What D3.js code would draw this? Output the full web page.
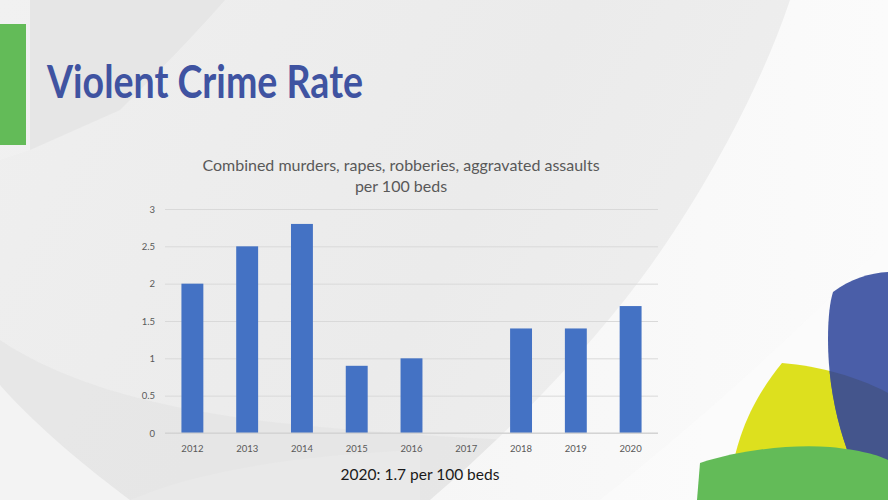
<!DOCTYPE html>
<html><head><meta charset="utf-8">
<script src="https://cdn.jsdelivr.net/npm/d3@7/dist/d3.min.js"></script>
<style>html,body{margin:0;padding:0;overflow:hidden;background:#ececec}svg{display:block}</style>
</head><body>
<svg id="c" width="888" height="500"></svg>
<script>
const years = ["2012","2013","2014","2015","2016","2017","2018","2019","2020"];
const rates = [2.0, 2.5, 2.8, 0.9, 1.0, 0, 1.4, 1.4, 1.7];
const yTicks = [0, 0.5, 1, 1.5, 2, 2.5, 3];
const titleText = "Violent Crime Rate";
const subtitleLines = ["Combined murders, rapes, robberies, aggravated assaults", "per 100 beds"];
const footText = "2020: 1.7 per 100 beds";

const svg = d3.select("#c");
const W = 888, H = 500;
const defs = svg.append("defs");

// background
const bg = defs.append("linearGradient").attr("id","bg").attr("x1",0).attr("y1",0).attr("x2",1).attr("y2",0.3);
bg.append("stop").attr("offset","0%").attr("stop-color","#efefef");
bg.append("stop").attr("offset","60%").attr("stop-color","#ebebeb");
bg.append("stop").attr("offset","100%").attr("stop-color","#efefef");
svg.append("rect").attr("width",W).attr("height",H).attr("fill","url(#bg)");

const wg = defs.append("linearGradient").attr("id","wg").attr("x1",0).attr("y1",0).attr("x2",1).attr("y2",0);
wg.append("stop").attr("offset","0%").attr("stop-color","#f6f6f6");
wg.append("stop").attr("offset","100%").attr("stop-color","#fbfbfb");

// top-left darker wedge
svg.append("path").attr("d","M30,0 L225,0 C190,40 150,80 120,110 L30,150 Z").attr("fill","#e3e3e3").attr("opacity",0.7);
svg.append("path").attr("d","M0,0 L30,0 L30,150 L0,160 Z").attr("fill","#f1f1f1").attr("opacity",0.6);
// bottom-left swoosh
svg.append("path").attr("d","M0,340 C60,380 150,410 300,425 C420,437 520,440 600,445 L600,500 L0,500 Z").attr("fill","#e4e4e4").attr("opacity",0.7);
svg.append("path").attr("d","M0,385 C40,430 90,470 130,500 L0,500 Z").attr("fill","#f3f3f3");
svg.append("path").attr("d","M130,500 C200,470 300,455 420,450 L420,500 Z").attr("fill","#e9e9e9");
// big white swoosh on right
svg.append("path").attr("d","M790,0 C760,90 700,200 640,280 C580,360 500,440 430,500 L888,500 L888,0 Z").attr("fill","url(#wg)");
svg.append("path").attr("d","M888,240 C800,330 700,420 600,500 L888,500 Z").attr("fill","#fcfcfc").attr("opacity",0.6);

// decorative shapes bottom right
const yellowPath = "M782,363 C820,366 860,378 888,393 L888,500 L728,500 C733,440 752,400 782,363 Z";
svg.append("path").attr("d",yellowPath).attr("fill","#dde01e");
const bluePath = "M833,292 C850,279 870,273 888,272 L888,500 L872,500 C846,462 828,400 828,340 C828,316 830,302 833,292 Z";
svg.append("path").attr("d",bluePath).attr("fill","#4a5ea8");
defs.append("clipPath").attr("id","blueClip").append("path").attr("d",bluePath);
svg.append("path").attr("clip-path","url(#blueClip)").attr("d",yellowPath).attr("fill","#44558c");
svg.append("path").attr("d","M700,463 C740,450 790,444 830,447 C860,450 878,455 888,460 L888,500 L697,500 Z").attr("fill","#63bb58");

// left green bar
svg.append("rect").attr("x",0).attr("y",24).attr("width",26).attr("height",121).attr("fill","#63bb58");

// title
svg.append("text").attr("x",47).attr("y",98).attr("font-family","Lato, 'Open Sans', sans-serif")
  .attr("font-weight","bold").attr("font-size",45).attr("fill","#3f53a1")
  .attr("textLength",316).attr("lengthAdjust","spacingAndGlyphs").text(titleText);

// subtitle
svg.append("g").selectAll("text").data(subtitleLines).join("text")
  .attr("x",401).attr("y",(d,i)=>171+i*21).attr("text-anchor","middle")
  .attr("font-family","Lato, sans-serif").attr("font-size",16).attr("fill","#595959").text(d=>d);

// scales
const x = d3.scaleBand().domain(years).range([165,658]).paddingInner(0.6).paddingOuter(0.3);
const y = d3.scaleLinear().domain([0,3]).range([433,209]);

// gridlines
svg.append("g").attr("transform","translate(165,0)")
  .call(d3.axisLeft(y).tickValues(yTicks).tickSize(-(658-165)).tickFormat(""))
  .call(g=>g.select(".domain").remove())
  .call(g=>g.selectAll("line").attr("stroke","#d9d9d9").attr("stroke-width",1));

// bars
svg.append("g").selectAll("rect").data(years.map((yr,i)=>({yr, v:rates[i]})).filter(d=>d.v>0)).join("rect")
  .attr("x",d=>x(d.yr)).attr("width",x.bandwidth())
  .attr("y",d=>y(d.v)).attr("height",d=>y(0)-y(d.v)).attr("fill","#4472c4");

// axis line at zero
svg.append("line").attr("x1",165).attr("x2",658).attr("y1",y(0)).attr("y2",y(0)).attr("stroke","#d0d0d0");

// y axis labels
svg.append("g").attr("transform","translate(165,0)")
  .call(d3.axisLeft(y).tickValues(yTicks).tickSize(0).tickPadding(10).tickFormat(d3.format("")))
  .call(g=>g.select(".domain").remove())
  .call(g=>g.selectAll("text").attr("font-family","Lato, sans-serif").attr("font-size",9.5).attr("fill","#595959"));

// x axis labels
svg.append("g").attr("transform",`translate(0,${y(0)})`)
  .call(d3.axisBottom(x).tickSize(0).tickPadding(12))
  .call(g=>g.select(".domain").remove())
  .call(g=>g.selectAll("text").attr("font-family","Lato, sans-serif").attr("font-size",9.5).attr("fill","#595959"));

// footnote
svg.append("text").attr("x",420).attr("y",480).attr("text-anchor","middle")
  .attr("font-family","Lato, sans-serif").attr("font-size",15.5).attr("fill","#1a1a1a").text(footText);
</script>
</body></html>
